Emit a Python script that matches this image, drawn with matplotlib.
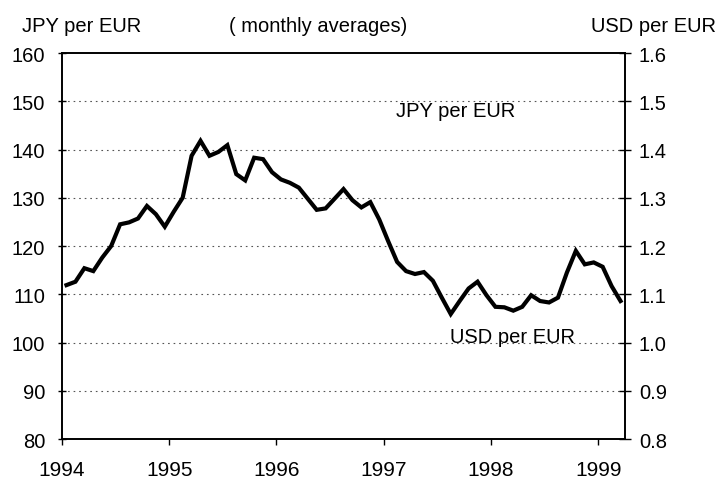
import matplotlib.pyplot as plt
import numpy as np
from matplotlib.ticker import FormatStrFormatter

plt.rcParams["font.family"] = ["Liberation Sans", "DejaVu Sans"]

# USD per EUR, monthly averages, Jan 1994 - Mar 1999
usd_per_eur = [
    1.119, 1.126, 1.154, 1.148, 1.176, 1.200, 1.245, 1.249, 1.257, 1.283, 1.266, 1.240,
    1.271, 1.300, 1.387, 1.418, 1.387, 1.395, 1.409, 1.349, 1.336, 1.383, 1.380, 1.353,
    1.338, 1.331, 1.321, 1.298, 1.275, 1.278, 1.298, 1.318, 1.295, 1.280, 1.291, 1.255,
    1.210, 1.167, 1.148, 1.142, 1.146, 1.128, 1.093, 1.059, 1.086, 1.112, 1.126, 1.098,
    1.074, 1.073, 1.066, 1.074, 1.098, 1.086, 1.083, 1.093, 1.145, 1.190, 1.162, 1.166,
    1.157, 1.117, 1.086,
]
start_year = 1994
year_ticks = [1994, 1995, 1996, 1997, 1998, 1999]
jpy_ticks = [80, 90, 100, 110, 120, 130, 140, 150, 160]
usd_ticks = [0.8, 0.9, 1.0, 1.1, 1.2, 1.3, 1.4, 1.5, 1.6]

months = start_year + (np.arange(len(usd_per_eur)) + 0.5) / 12

fig = plt.figure(figsize=(7.28, 4.81), dpi=100)
ax = fig.add_axes([0.0852, 0.0852, 0.7733, 0.8025])
ax2 = ax.twinx()

ax.set_xlim(start_year, start_year + len(usd_per_eur) / 12)
ax.set_ylim(80, 160)
ax.set_yticks(jpy_ticks)
ax.set_xticks(year_ticks)
ax2.set_ylim(0.8, 1.6)
ax2.set_yticks(usd_ticks)
ax2.yaxis.set_major_formatter(FormatStrFormatter("%.1f"))

for v in jpy_ticks[1:-1]:
    ax.axhline(v, color="#555555", lw=0.8, ls=(0, (1.5, 3.5)), zorder=0)

ax2.plot(months, usd_per_eur, color="black", lw=3.0, solid_joinstyle="miter")

for a in (ax, ax2):
    for s in a.spines.values():
        s.set_linewidth(1.2)
ax.tick_params(axis="y", direction="inout", length=6, width=1, labelsize=14.5, pad=9)
ax.tick_params(axis="x", direction="out", length=4, width=1, labelsize=15, pad=11)
ax2.tick_params(axis="y", direction="inout", length=8, width=1, labelsize=14.5, pad=6)

ax.text(0.70, 0.85, "JPY per EUR", transform=ax.transAxes, fontsize=14.5,
        ha="center", va="center")
ax.text(0.80, 0.265, "USD per EUR", transform=ax.transAxes, fontsize=14.5,
        ha="center", va="center")

fig.text(0.030, 0.945, "JPY per EUR", fontsize=14.5, ha="left", va="center")
fig.text(0.437, 0.945, "( monthly averages)", fontsize=14.5, ha="center", va="center")
fig.text(0.983, 0.945, "USD per EUR", fontsize=14.5, ha="right", va="center")

fig.savefig("out.png", dpi=100)
